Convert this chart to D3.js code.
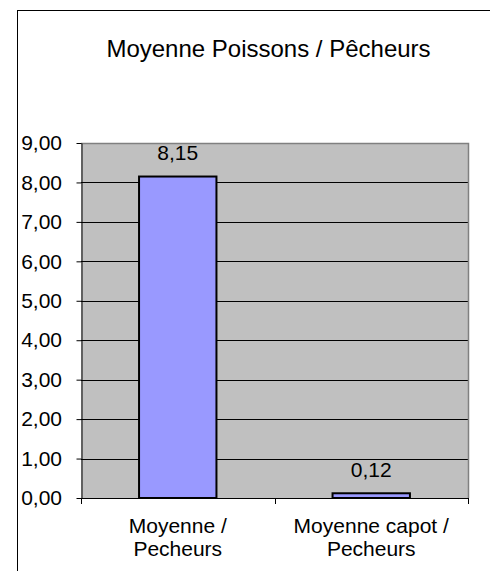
<!DOCTYPE html>
<html>
<head>
<meta charset="utf-8">
<style>
  body { margin: 0; background: #fff; }
  svg { display: block; font-family: "Liberation Sans", Arial, sans-serif; }
</style>
</head>
<body>
<svg width="490" height="571"></svg>
<script src="https://cdn.jsdelivr.net/npm/d3@7"></script>
<script>

var categories = [["Moyenne /", "Pecheurs"], ["Moyenne capot /", "Pecheurs"]],
    values = [8.15, 0.12],
    yTicks = [0, 1, 2, 3, 4, 5, 6, 7, 8, 9],
    title = "Moyenne Poissons / Pêcheurs";

var svg = d3.select("svg");

var plot = {left: 81, right: 468, top: 143, bottom: 498};

var fmt = function(d) { return d.toFixed(2).replace(".", ","); };

var x = d3.scaleBand()
    .domain(d3.range(values.length))
    .range([plot.left, plot.right])
    .paddingInner(0.6)
    .paddingOuter(0.3);

var y = d3.scaleLinear()
    .domain([0, 9])
    .range([plot.bottom, plot.top]);

// chart frame (runs off the right and bottom of the picture)
svg.append("rect")
    .attr("x", 17.5).attr("y", 10.5)
    .attr("width", 600).attr("height", 700)
    .attr("fill", "#fff")
    .attr("stroke", "#000");

function label(g, tx, ty, str, size) {
  return g.append("text")
      .attr("x", tx).attr("y", ty)
      .attr("font-size", size)
      .attr("text-anchor", "middle")
      .attr("fill", "#000")
      .text(str);
}

label(svg, 268.5, 56.5, title, 24);

// plot background
svg.append("rect")
    .attr("x", plot.left).attr("y", plot.top)
    .attr("width", plot.right - plot.left)
    .attr("height", plot.bottom - plot.top)
    .attr("fill", "#c0c0c0");

// gridlines
svg.append("g")
    .selectAll("line")
    .data(yTicks.filter(function(d) { return d > 0 && d < 9; }))
    .enter().append("line")
      .attr("x1", plot.left).attr("x2", plot.right)
      .attr("y1", function(d) { return Math.round(y(d)) + 0.5; })
      .attr("y2", function(d) { return Math.round(y(d)) + 0.5; })
      .attr("stroke", "#000");

// plot border top/right
svg.append("path")
    .attr("d", "M" + plot.left + "," + (plot.top + 0.5) + "H" + (plot.right + 0.5) + "V" + plot.bottom)
    .attr("fill", "none")
    .attr("stroke", "#808080")
    .attr("stroke-width", 1.5);

// bars
svg.append("g")
    .selectAll("rect")
    .data(values)
    .enter().append("rect")
      .attr("x", function(d, i) { return x(i); })
      .attr("y", function(d) { return y(d); })
      .attr("width", x.bandwidth())
      .attr("height", function(d) { return y(0) - y(d); })
      .attr("fill", "#9999ff")
      .attr("stroke", "#000")
      .attr("stroke-width", 2);

// value labels
var labels = svg.append("g");
values.forEach(function(d, i) {
  label(labels, x(i) + x.bandwidth() / 2, y(d) - 16.5, fmt(d), 21);
});

// y axis
var yAxis = svg.append("g")
    .attr("transform", "translate(" + (plot.left + 0.5) + ",0)")
    .call(d3.axisLeft(y).tickValues(yTicks).tickFormat(fmt).tickSize(5).tickSizeOuter(0));
yAxis.select(".domain").attr("stroke", "#000");
yAxis.selectAll(".tick line").attr("stroke", "#000");
yAxis.selectAll(".tick text")
    .attr("x", -19.5)
    .attr("font-size", 21)
    .attr("font-family", "Liberation Sans, Arial, sans-serif")
    .attr("fill", "#000");

// x axis with ticks between categories
var xAxis = svg.append("g");
xAxis.append("line")
    .attr("x1", plot.left).attr("x2", plot.right + 1)
    .attr("y1", plot.bottom + 0.5).attr("y2", plot.bottom + 0.5)
    .attr("stroke", "#000");
xAxis.selectAll(".tick")
    .data(d3.range(values.length + 1))
    .enter().append("line")
      .attr("x1", function(i) { return Math.round(plot.left + i * x.step()) + 0.5; })
      .attr("x2", function(i) { return Math.round(plot.left + i * x.step()) + 0.5; })
      .attr("y1", plot.bottom).attr("y2", plot.bottom + 6)
      .attr("stroke", "#000");

categories.forEach(function(lines, i) {
  lines.forEach(function(t, j) {
    label(xAxis, x(i) + x.bandwidth() / 2, 533 + j * 23, t, 21);
  });
});

</script>
</body>
</html>
